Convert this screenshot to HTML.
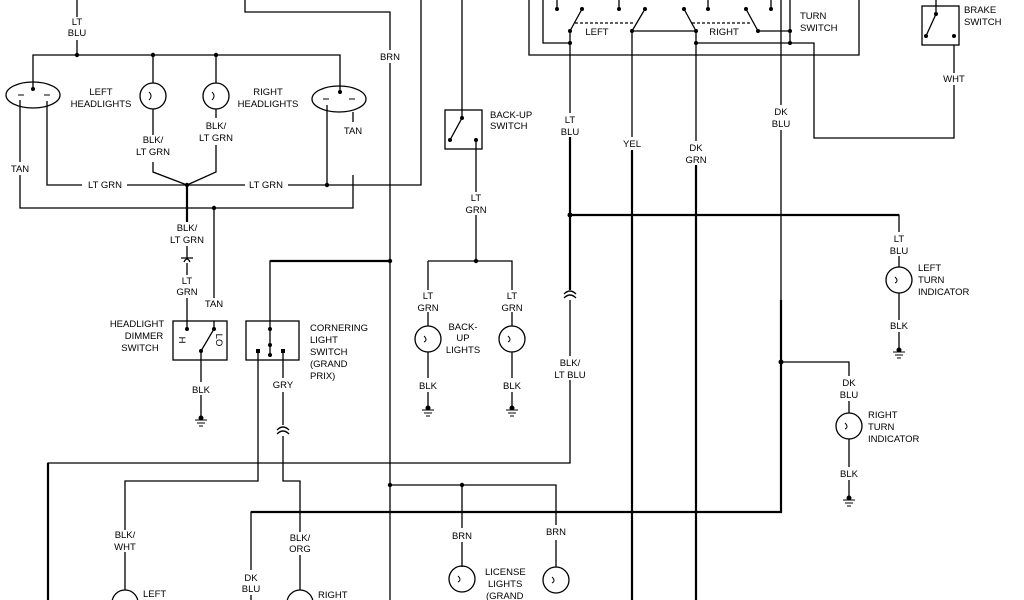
<!DOCTYPE html>
<html><head><meta charset="utf-8"><style>
html,body{margin:0;padding:0;background:#fff;}
svg{display:block;}
text{font-family:"Liberation Sans",sans-serif;font-size:9.5px;fill:#000;text-anchor:middle;}
.l{text-anchor:start;}
</style></head><body>
<svg width="1024" height="600" viewBox="0 0 1024 600" xmlns="http://www.w3.org/2000/svg">
<rect width="1024" height="600" fill="#fff"/>
<g stroke="#000" stroke-width="1.3" fill="none">
<path d="M77 0V17M77 40V55"/>
<path d="M33 89V55H340V92"/>
<path d="M153 55V83M216 55V83"/>
<ellipse cx="33" cy="95" rx="27" ry="13"/>
<ellipse cx="339" cy="99" rx="27" ry="13"/>
<circle cx="153" cy="96" r="13"/><circle cx="216" cy="96" r="13"/>
<path d="M20 100V162M20 175V208H353V175M353 112V122"/>
<path d="M47 101V185H82M127 185H187"/>
<path d="M153 109V135M153 162V172L187 185M216 109V118M216 145V172L187 185"/>
<path d="M187 185H245M288 185H421V0"/>
<path d="M327 105V185"/>
<path d="M187 185V222M187 246V258M214 208V298"/>
<path d="M187 263V275M187 298V321"/>
<path d="M181 258h12M184 262q3 -6 6 0"/>
<path d="M245 0V12H390V50M390 63V600"/>
<path d="M462 0V118"/>
<rect x="445" y="110" width="37" height="39"/>
<path d="M462 118L450 140M476 140V192M476 215V261"/>
<path d="M270 321V261H390M428 261H512V290M428 261V290"/>
<path d="M529 0V55H859V0"/>
<path d="M543 0V43H570"/>
<path d="M570 31L582 9M632 31L645 9M696 31L684 9M758 31L746 9M758 31H790M632 31H696"/>
<path d="M557 0V9M619 0V9M708 0V9M771 0V9"/>
<path d="M575 23H635M692 23H752" stroke-dasharray="3 2"/>
<path d="M790 0V43H814V138H954V85M954 73V45"/>
<path d="M696 43H790"/>
<rect x="922" y="6" width="37" height="39"/>
<path d="M936 0V14L926 36"/>
<path d="M570 31V113M570 137V290M570 300V356M570 380V463H48V600"/>
<path d="M632 31V137M632 150V600"/>
<path d="M696 31V141M696 165V600"/>
<path d="M781 0V105M781 130V512H251V570M251 595V600"/>
<path d="M570 215H899V232M899 256V267M899 293V320M899 332V352"/>
<circle cx="899" cy="280" r="13"/>
<path d="M781 362H849V376M849 401V413M849 439V467M849 480V500"/>
<circle cx="849" cy="426" r="13"/>
<rect x="173" y="321" width="54" height="39"/>
<rect x="246" y="321" width="53" height="39"/>
<path d="M187 321V329M214 321V329L201 351V382M201 395V420"/>
<path d="M270 321V355M258 351V481H125V530M125 552V590"/>
<path d="M283 351V378M283 392V425M283 436V481H300V532M300 555V590"/>
<path d="M277 430q6 -6 12 0M277 434q6 -6 12 0"/>
<path d="M564 294q6 -6 12 0M564 298q6 -6 12 0"/>
<path d="M428 312V326M428 352V378M428 392V410M512 312V326M512 352V378M512 392V410"/>
<circle cx="428" cy="339" r="13"/><circle cx="512" cy="339" r="13"/>
<path d="M390 485H556V525M556 540V567M462 485V528M462 542V567"/>
<circle cx="462" cy="579" r="13"/><circle cx="556" cy="580" r="13"/>
<circle cx="125" cy="603" r="13"/><circle cx="300" cy="603" r="13"/>
</g>
<g stroke="#000" stroke-width="2.2" fill="none">
<path d="M187 185V222M270 261H390M48 463V600M251 512H781V300M570 215H899M632 150V600M696 165V600M570 137V290"/>
</g>
<g fill="#000">
<circle cx="77" cy="55" r="2.2"/><circle cx="153" cy="55" r="2.2"/><circle cx="216" cy="55" r="2.2"/>
<circle cx="33" cy="89" r="2"/><circle cx="340" cy="92" r="2"/>
<circle cx="187" cy="185" r="2.2"/><circle cx="327" cy="185" r="2.2"/><circle cx="214" cy="208" r="2.2"/>
<circle cx="390" cy="261" r="2.2"/><circle cx="476" cy="261" r="2.2"/><circle cx="390" cy="485" r="2.2"/><circle cx="462" cy="485" r="2.2"/>
<circle cx="462" cy="118" r="2"/><circle cx="450" cy="140" r="2"/><circle cx="476" cy="140" r="2"/>
<circle cx="570" cy="31" r="2"/><circle cx="632" cy="31" r="2"/><circle cx="696" cy="31" r="2"/><circle cx="758" cy="31" r="2"/><circle cx="790" cy="31" r="2"/>
<circle cx="582" cy="9" r="2"/><circle cx="645" cy="9" r="2"/><circle cx="684" cy="9" r="2"/><circle cx="746" cy="9" r="2"/>
<circle cx="557" cy="9" r="2"/><circle cx="619" cy="9" r="2"/><circle cx="708" cy="9" r="2"/><circle cx="771" cy="9" r="2"/>
<circle cx="570" cy="43" r="2"/><circle cx="696" cy="43" r="2"/><circle cx="790" cy="43" r="2"/>
<circle cx="570" cy="215" r="2.5"/><circle cx="781" cy="362" r="2.5"/>
<circle cx="936" cy="14" r="2"/><circle cx="926" cy="36" r="2"/><circle cx="954" cy="36" r="2"/>
<circle cx="187" cy="329" r="2"/><circle cx="214" cy="329" r="2"/><circle cx="201" cy="351" r="2"/>
<circle cx="270" cy="329" r="2"/><circle cx="270" cy="345" r="2"/><circle cx="270" cy="355" r="2"/><rect x="256" y="349" width="4" height="4"/><rect x="281" y="349" width="4" height="4"/>
<circle cx="201" cy="418" r="2.5"/><circle cx="428" cy="408" r="2.5"/><circle cx="512" cy="408" r="2.5"/><circle cx="899" cy="350" r="2.5"/><circle cx="849" cy="498" r="2.5"/>
</g>
<g stroke="#000" stroke-width="1" fill="none">
<path d="M195 420h12M197 423h8M199 426h4M422 410h12M424 413h8M426 416h4M506 410h12M508 413h8M510 416h4M893 352h12M895 355h8M897 358h4M843 500h12M845 503h8M847 506h4"/>
<path d="M149 92q4 4 0 8M212 92q4 4 0 8M424 336q4 4 0 6M508 336q4 4 0 6M895 277q4 4 0 6M845 423q4 4 0 6M458 576q4 4 0 6M552 577q4 4 0 6"/>
<path d="M18 95h6M44 95h6M323 99h6M349 99h6"/>
</g>
<text x="77" y="25">LT</text><text x="77" y="36">BLU</text>
<text x="101" y="95">LEFT</text><text x="101" y="107">HEADLIGHTS</text>
<text x="268" y="95">RIGHT</text><text x="268" y="107">HEADLIGHTS</text>
<text x="153" y="143">BLK/</text><text x="153" y="155">LT GRN</text>
<text x="216" y="129">BLK/</text><text x="216" y="141">LT GRN</text>
<text x="353" y="134">TAN</text>
<text x="20" y="172">TAN</text>
<text x="105" y="188">LT GRN</text><text x="266" y="188">LT GRN</text>
<text x="390" y="60">BRN</text>
<text x="187" y="231">BLK/</text><text x="187" y="243">LT GRN</text>
<text x="187" y="284">LT</text><text x="187" y="295">GRN</text>
<text x="214" y="307">TAN</text>
<text x="476" y="201">LT</text><text x="476" y="213">GRN</text>
<text class="l" x="490" y="118">BACK-UP</text><text class="l" x="490" y="129">SWITCH</text>
<text x="597" y="35">LEFT</text><text x="724" y="35">RIGHT</text>
<text class="l" x="800" y="19">TURN</text><text class="l" x="800" y="31">SWITCH</text>
<text class="l" x="964" y="13">BRAKE</text><text class="l" x="964" y="25">SWITCH</text>
<text x="954" y="82">WHT</text>
<text x="570" y="123">LT</text><text x="570" y="135">BLU</text>
<text x="632" y="147">YEL</text>
<text x="696" y="151">DK</text><text x="696" y="163">GRN</text>
<text x="781" y="115">DK</text><text x="781" y="127">BLU</text>
<text x="899" y="242">LT</text><text x="899" y="254">BLU</text>
<text class="l" x="918" y="271">LEFT</text><text class="l" x="918" y="283">TURN</text><text class="l" x="918" y="295">INDICATOR</text>
<text x="899" y="329">BLK</text>
<text x="570" y="366">BLK/</text><text x="570" y="378">LT BLU</text>
<text x="849" y="386">DK</text><text x="849" y="398">BLU</text>
<text class="l" x="868" y="418">RIGHT</text><text class="l" x="868" y="430">TURN</text><text class="l" x="868" y="442">INDICATOR</text>
<text x="849" y="477">BLK</text>
<text x="428" y="299">LT</text><text x="428" y="311">GRN</text>
<text x="512" y="299">LT</text><text x="512" y="311">GRN</text>
<text x="463" y="330">BACK-</text><text x="463" y="341">UP</text><text x="463" y="353">LIGHTS</text>
<text x="428" y="389">BLK</text><text x="512" y="389">BLK</text>
<text x="137" y="327">HEADLIGHT</text><text x="144" y="339">DIMMER</text><text x="140" y="351">SWITCH</text>
<text x="182" y="343" transform="rotate(90 182 340)">H</text>
<text x="219" y="343" transform="rotate(90 219 340)">LO</text>
<text class="l" x="310" y="331">CORNERING</text><text class="l" x="310" y="343">LIGHT</text><text class="l" x="310" y="355">SWITCH</text><text class="l" x="310" y="367">(GRAND</text><text class="l" x="310" y="379">PRIX)</text>
<text x="201" y="393">BLK</text>
<text x="283" y="388">GRY</text>
<text x="125" y="538">BLK/</text><text x="125" y="550">WHT</text>
<text x="300" y="541">BLK/</text><text x="300" y="552">ORG</text>
<text x="251" y="581">DK</text><text x="251" y="592">BLU</text>
<text class="l" x="143" y="597">LEFT</text><text class="l" x="318" y="598">RIGHT</text>
<text x="462" y="539">BRN</text><text x="556" y="535">BRN</text>
<text class="l" x="485" y="575">LICENSE</text><text class="l" x="488" y="587">LIGHTS</text><text class="l" x="486" y="599">(GRAND</text>
</svg>
</body></html>
